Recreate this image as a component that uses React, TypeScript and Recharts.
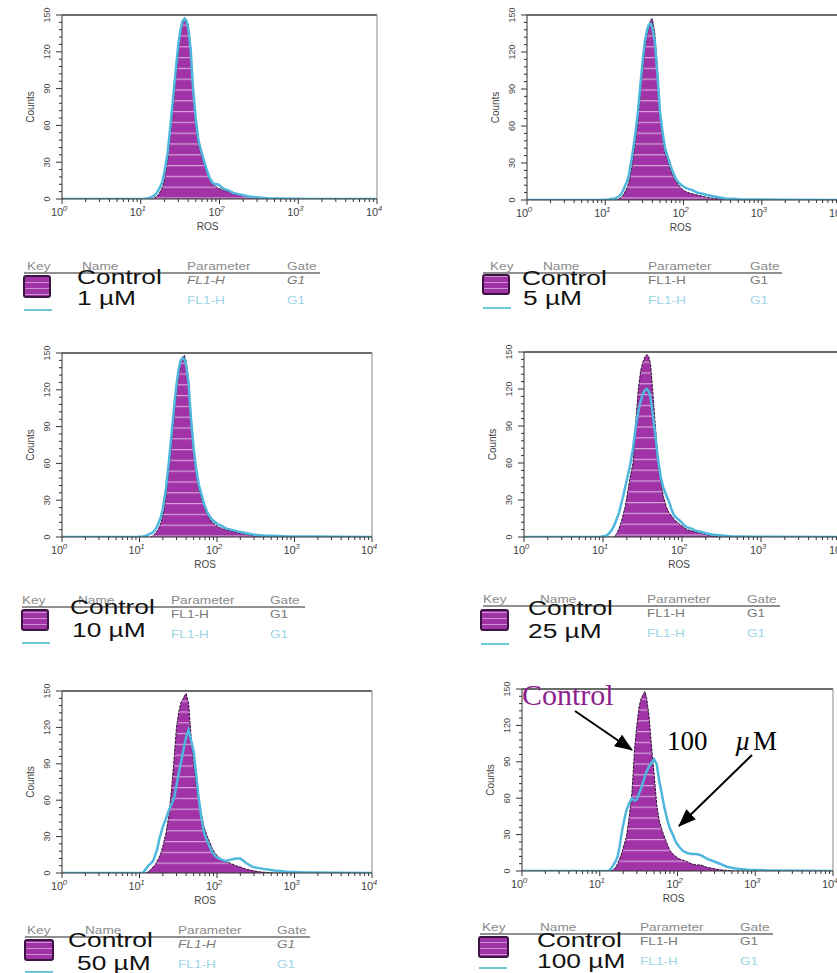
import React from 'react';
import { ComposedChart, Area, Line, XAxis, YAxis, ReferenceLine } from 'recharts';

// ROS channel (FL1-H) bin positions
const rosBins = [
  1, 9, 11, 12, 13, 14, 15, 16, 17, 18,
  19, 20, 22, 24, 26, 28, 30, 32, 34, 36,
  38, 40, 43, 46, 50, 54, 58, 63, 68, 74,
  80, 87, 95, 105, 115, 130, 150, 175, 200, 240,
  290, 350, 430, 550, 800, 1500, 10000,
];

// Panel 1: Control vs 1 µM
const control1 = [0, 0, 0, 0, 0, 0, 1, 2, 4, 7, 10, 16, 32, 55, 78, 100, 120, 135, 143, 148, 146, 142, 125, 90, 60, 45, 37, 30, 23, 17, 13, 11, 9, 8, 7, 6, 5, 4, 3, 2, 1, 0.5, 0, 0, 0, 0, 0];
const treated1 = [0, 0, 0, 0.5, 1, 2, 3, 5, 8, 11, 15, 22, 38, 62, 85, 107, 126, 138, 145, 147, 145, 140, 122, 92, 65, 48, 40, 32, 25, 18, 14, 12, 12, 10, 8, 7, 5, 4, 3, 2, 1.5, 1, 0.5, 0.5, 0.3, 0, 0];
// Panel 2: Control vs 5 µM
const control2 = [0, 0, 0, 0, 0, 0, 1, 2, 4, 7, 10, 14, 28, 45, 62, 85, 105, 122, 133, 140, 146, 147, 135, 110, 70, 50, 38, 32, 25, 19, 15, 12, 9, 7, 6, 5, 4, 3, 2, 1.5, 1, 0.5, 0, 0, 0, 0, 0];
const treated2 = [0, 0, 0.5, 1, 1, 2, 3, 5, 8, 12, 15, 20, 35, 52, 70, 92, 112, 128, 137, 142, 143, 140, 128, 105, 72, 55, 42, 35, 28, 22, 17, 14, 12, 10, 9, 8, 6, 5, 4, 3, 2, 1, 1, 0.5, 0.5, 0.3, 0];
// Panel 3: Control vs 10 µM
const control3 = [0, 0, 0, 0, 0, 0, 1, 3, 5, 8, 12, 17, 33, 55, 78, 100, 118, 132, 142, 147, 148, 143, 128, 100, 70, 52, 40, 32, 25, 19, 15, 12, 10, 8, 7, 6, 5, 4, 3, 2, 1, 0.5, 0, 0, 0, 0, 0];
const treated3 = [0, 0, 0.5, 1, 2, 3, 4, 6, 9, 13, 17, 23, 40, 62, 85, 106, 124, 137, 144, 146, 145, 140, 125, 98, 72, 55, 43, 35, 27, 21, 17, 14, 12, 10, 9, 7, 6, 5, 4, 3, 2, 1.5, 1, 1, 0.5, 0.5, 0];
// Panel 4: Control vs 25 µM
const control4 = [0, 0, 0, 0, 0, 0, 3, 7, 12, 18, 24, 32, 48, 60, 94, 120, 135, 142, 146, 148, 146, 140, 115, 90, 60, 45, 33, 25, 20, 17, 14, 12, 10, 8, 6, 5, 4, 3, 2, 1, 0, 0, 0, 0, 0, 0, 0];
const treated4 = [0, 0, 1, 3, 6, 10, 15, 20, 27, 33, 40, 46, 58, 72, 90, 102, 110, 116, 119, 120, 118, 113, 98, 82, 62, 48, 40, 34, 29, 22, 17, 15, 13, 10, 8, 7, 5, 4, 3, 2, 1.5, 1, 0.5, 0.5, 0.3, 0.3, 0];
// Panel 5: Control vs 50 µM
const control5 = [0, 0, 0, 0, 1, 3, 5, 7, 10, 13, 17, 22, 33, 48, 70, 95, 120, 132, 140, 143, 146, 148, 140, 115, 90, 72, 62, 48, 38, 31, 26, 20, 16, 13, 11, 9, 8, 6, 5, 3, 2, 1, 0.5, 0, 0, 0, 0];
const treated5 = [0, 0, 0, 3, 6, 8, 10, 15, 20, 28, 33, 38, 45, 52, 57, 62, 72, 82, 90, 98, 106, 112, 118, 110, 100, 80, 62, 45, 33, 27, 22, 17, 14, 12, 11, 10, 11, 12, 12, 8, 5, 4, 3, 2, 1, 0.5, 0];
// Panel 6: Control vs 100 µM
const control6 = [0, 0, 0, 0, 0, 0, 1, 3, 6, 10, 14, 19, 28, 45, 65, 100, 120, 135, 142, 145, 148, 143, 128, 105, 80, 55, 42, 34, 28, 22, 17, 14, 12, 10, 9, 8, 6, 5, 5, 3, 2, 1, 0.5, 0, 0, 0, 0];
const treated6 = [0, 0, 0, 0, 0, 2, 5, 8, 12, 20, 30, 38, 50, 56, 60, 58, 59, 64, 68, 73, 78, 82, 86, 89, 92, 88, 75, 63, 52, 42, 35, 30, 24, 20, 17, 15, 14, 14, 13, 10, 8, 6, 3.5, 2, 1, 0.5, 0];

const concLabels = ['1 µM', '5 µM', '10 µM', '25 µM', '50 µM', '100 µM'];
const controlLabel = 'Control';
const headerLabels = ['Key', 'Name', 'Parameter', 'Gate'];
const paramLabel = 'FL1-H';
const gateLabel = 'G1';

const xMajorTicks = [1, 10, 100, 1000, 10000];
const yMajorTicks = [0, 30, 60, 90, 120, 150];
const xAllTicks: number[] = [];
xMajorTicks.forEach((d, i) => {
  xAllTicks.push(d);
  if (i < xMajorTicks.length - 1) for (let m = 2; m <= 9; m++) xAllTicks.push(d * m);
});
const yAllTicks: number[] = [];
for (let v = 0; v <= 150; v += 6) yAllTicks.push(v);

const SANS = '"Liberation Sans", Arial, Helvetica, sans-serif';
const SERIF = '"Liberation Serif", "Times New Roman", serif';
const PURPLE = '#a034a6';
const CYAN = '#4fb6dd';
const TOP_M = 12;

const XTick = (props: any) => {
  const { x, y, payload } = props;
  const v = payload.value;
  const isMajor = xMajorTicks.includes(v);
  const exp = Math.round(Math.log10(v));
  return (
    <g>
      <line x1={x} x2={x} y1={y} y2={y + (isMajor ? 5 : 3)} stroke="#333" strokeWidth={1} />
      {isMajor && (
        <text fontFamily={SANS} fill="#444">
          <tspan x={x - 5} y={y + 17} fontSize={11} textAnchor="middle">10</tspan>
          <tspan x={x + 3} y={y + 12} fontSize={8} fontStyle="italic" textAnchor="middle">{exp}</tspan>
        </text>
      )}
    </g>
  );
};

const YTick = (props: any) => {
  const { x, y, payload } = props;
  const v = payload.value;
  const isMajor = yMajorTicks.includes(v);
  return (
    <g>
      <line x1={x - (isMajor ? 6 : 3)} x2={x} y1={y} y2={y} stroke="#333" strokeWidth={1} />
      {isMajor && (
        <text
          transform={`translate(${x - 12}, ${y}) rotate(-90)`}
          textAnchor="middle"
          fontSize={9}
          fontFamily={SANS}
          fill="#444"
        >
          {v}
        </text>
      )}
    </g>
  );
};

type PanelCfg = { x: number; y: number; w: number; h: number; control: number[]; treated: number[]; rosDx: number };

const panels: PanelCfg[] = [
  { x: 62, y: 15, w: 315, h: 184, control: control1, treated: treated1, rosDx: -12 },
  { x: 527, y: 15, w: 313, h: 185, control: control2, treated: treated2, rosDx: -3 },
  { x: 62, y: 353, w: 310, h: 184, control: control3, treated: treated3, rosDx: -12 },
  { x: 524, y: 352, w: 316, h: 185, control: control4, treated: treated4, rosDx: -3 },
  { x: 62, y: 691, w: 310, h: 182, control: control5, treated: treated5, rosDx: -12 },
  { x: 522, y: 689, w: 311, h: 182, control: control6, treated: treated6, rosDx: -4 },
];

function HistPanel({ cfg, idx }: { cfg: PanelCfg; idx: number }) {
  const data = rosBins.map((ros, i) => ({ ros, control: cfg.control[i], treated: cfg.treated[i] }));
  const w = cfg.w + 65;
  const h = cfg.h + 40 + TOP_M;
  const pid = `stripes-${idx}`;
  return (
    <div style={{ position: 'absolute', left: cfg.x - 60, top: cfg.y - TOP_M }}>
      <ComposedChart width={w} height={h} data={data} margin={{ top: TOP_M, right: 5, bottom: 0, left: 0 }}>
        <defs>
          <pattern id={pid} patternUnits="userSpaceOnUse" width={8} height={10.8}>
            <rect x={0} y={0} width={8} height={10.8} fill={PURPLE} />
            <rect x={0} y={0} width={8} height={1.2} fill="#ffffff" fillOpacity={0.55} />
          </pattern>
        </defs>
        <XAxis
          dataKey="ros"
          type="number"
          scale="log"
          domain={[1, 10000]}
          ticks={xAllTicks}
          interval={0}
          tick={<XTick />}
          tickLine={false}
          tickSize={0}
          tickMargin={0}
          height={40}
          axisLine={{ stroke: '#333' }}
          allowDataOverflow
        />
        <YAxis
          type="number"
          domain={[0, 150]}
          ticks={yAllTicks}
          interval={0}
          tick={<YTick />}
          tickLine={false}
          tickSize={0}
          tickMargin={0}
          width={60}
          axisLine={{ stroke: '#333' }}
          allowDataOverflow
        />
        <ReferenceLine y={150} stroke="#3a3a3a" strokeWidth={1.5} />
        <ReferenceLine x={10000} stroke="#888" strokeWidth={1} />
        <Area
          type="linear"
          dataKey="control"
          stroke="#2e1033"
          strokeWidth={1}
          strokeDasharray="3 1"
          fill={`url(#${pid})`}
          fillOpacity={1}
          dot={false}
          activeDot={false}
          isAnimationActive={false}
        />
        <Line
          type="linear"
          dataKey="treated"
          stroke={CYAN}
          strokeWidth={2.5}
          dot={false}
          activeDot={false}
          isAnimationActive={false}
        />
      </ComposedChart>
    </div>
  );
}

type LegendCfg = {
  keyTextX: number; lineY: number; lineX1: number; lineX2: number; nameX: number; paramX: number; gateX: number;
  ctrlX: number; ctrlY: number; concX: number; concY: number; boxX: number; boxY: number; boxW: number; boxH: number;
  cyanY: number; italic: boolean;
};

const legends: LegendCfg[] = [
  { keyTextX: 27, lineY: 273, lineX1: 24, lineX2: 320, nameX: 82, paramX: 187, gateX: 287, ctrlX: 77, ctrlY: 284, concX: 77, concY: 305, boxX: 24, boxY: 276, boxW: 26, boxH: 21, cyanY: 310, italic: true },
  { keyTextX: 490, lineY: 273, lineX1: 483, lineX2: 782, nameX: 543, paramX: 648, gateX: 750, ctrlX: 522, ctrlY: 285, concX: 523, concY: 305, boxX: 483, boxY: 275, boxW: 26, boxH: 19, cyanY: 308, italic: false },
  { keyTextX: 22, lineY: 607, lineX1: 22, lineX2: 305, nameX: 78, paramX: 171, gateX: 270, ctrlX: 70, ctrlY: 614, concX: 72, concY: 637, boxX: 22, boxY: 610, boxW: 26, boxH: 20, cyanY: 643, italic: false },
  { keyTextX: 483, lineY: 606, lineX1: 483, lineX2: 780, nameX: 540, paramX: 647, gateX: 747, ctrlX: 528, ctrlY: 615, concX: 528, concY: 638, boxX: 481, boxY: 610, boxW: 27, boxH: 20, cyanY: 644, italic: false },
  { keyTextX: 27, lineY: 937, lineX1: 25, lineX2: 310, nameX: 85, paramX: 178, gateX: 277, ctrlX: 68, ctrlY: 947, concX: 77, concY: 970, boxX: 25, boxY: 940, boxW: 28, boxH: 20, cyanY: 972, italic: true },
  { keyTextX: 482, lineY: 934, lineX1: 480, lineX2: 773, nameX: 540, paramX: 640, gateX: 740, ctrlX: 537, ctrlY: 947, concX: 537, concY: 968, boxX: 479, boxY: 937, boxW: 29, boxH: 20, cyanY: 968, italic: false },
];

function LegendBlock({ cfg, conc }: { cfg: LegendCfg; conc: string }) {
  const hdrY = cfg.lineY - 3;
  const hx = [cfg.keyTextX, cfg.nameX, cfg.paramX, cfg.gateX];
  const small = (x: number, y: number, s: string, fill: string, italic = false) => (
    <text
      transform={`translate(${x}, ${y}) scale(1.3, 1)`}
      fontSize={10.5}
      fontFamily={SANS}
      fill={fill}
      fontStyle={italic ? 'italic' : 'normal'}
    >
      {s}
    </text>
  );
  return (
    <g>
      {headerLabels.map((s, i) => (
        <React.Fragment key={s}>{small(hx[i], hdrY, s, '#8a8a8a')}</React.Fragment>
      ))}
      {small(cfg.paramX, cfg.lineY + 11, paramLabel, '#7a7a7a', cfg.italic)}
      {small(cfg.gateX, cfg.lineY + 11, gateLabel, '#7a7a7a', cfg.italic)}
      {small(cfg.paramX, cfg.lineY + 31, paramLabel, '#9fd5e6')}
      {small(cfg.gateX, cfg.lineY + 31, gateLabel, '#9fd5e6')}
      <rect
        x={cfg.boxX}
        y={cfg.boxY}
        width={cfg.boxW}
        height={cfg.boxH}
        rx={2}
        fill="url(#legend-stripes)"
        stroke="#3c1444"
        strokeWidth={2}
      />
      <line x1={cfg.lineX1} x2={cfg.lineX2} y1={cfg.lineY} y2={cfg.lineY} stroke="#222" strokeWidth={1.2} />
      <line x1={cfg.boxX} x2={cfg.boxX + 28} y1={cfg.cyanY} y2={cfg.cyanY} stroke="#6cc7d6" strokeWidth={2} />
      <text transform={`translate(${cfg.ctrlX}, ${cfg.ctrlY}) scale(1.35, 1)`} fontSize={19.5} fontFamily={SANS} fill="#111">
        {controlLabel}
      </text>
      <text transform={`translate(${cfg.concX}, ${cfg.concY}) scale(1.35, 1)`} fontSize={19.5} fontFamily={SANS} fill="#111">
        {conc}
      </text>
    </g>
  );
}

export default function App() {
  return (
    <div
      style={{
        position: 'absolute',
        left: 0,
        top: 0,
        width: 837,
        height: 973,
        overflow: 'hidden',
        background: '#ffffff',
        fontFamily: SANS,
      }}
    >
      {panels.map((p, i) => (
        <HistPanel key={i} cfg={p} idx={i} />
      ))}
      <svg
        width={837}
        height={973}
        style={{ position: 'absolute', left: 0, top: 0, pointerEvents: 'none' }}
      >
        <defs>
          <pattern id="legend-stripes" patternUnits="userSpaceOnUse" width={8} height={6}>
            <rect x={0} y={0} width={8} height={6} fill={PURPLE} />
            <rect x={0} y={0} width={8} height={1} fill="#ffffff" fillOpacity={0.45} />
          </pattern>
          <marker id="arrowHead" markerUnits="userSpaceOnUse" markerWidth={18} markerHeight={14} refX={17} refY={7} orient="auto">
            <path d="M0,0 L18,7 L0,14 Z" fill="#000" />
          </marker>
        </defs>
        {panels.map((p, i) => (
          <g key={i}>
            <text
              transform={`translate(${p.x - 28}, ${p.y + p.h / 2}) rotate(-90)`}
              textAnchor="middle"
              fontSize={10}
              fontFamily={SANS}
              fill="#444"
            >
              Counts
            </text>
            <text
              x={p.x + p.w / 2 + p.rosDx}
              y={p.y + p.h + 31}
              textAnchor="middle"
              fontSize={10}
              fontFamily={SANS}
              fill="#444"
            >
              ROS
            </text>
          </g>
        ))}
        {legends.map((l, i) => (
          <LegendBlock key={i} cfg={l} conc={concLabels[i]} />
        ))}
        {/* annotations of panel 6 */}
        <text x={522} y={705} fontSize={30} fontFamily={SERIF} fill="#8e1f8e">
          Control
        </text>
        <text x={667} y={750} fontSize={27} fontFamily={SERIF} fill="#000">
          100
        </text>
        <text x={735} y={750} fontSize={27} fontFamily={SERIF} fontStyle="italic" fill="#000">
          µ
        </text>
        <text x={753} y={750} fontSize={27} fontFamily={SERIF} fill="#000">
          M
        </text>
        <line x1={575} y1={711} x2={632} y2={750} stroke="#000" strokeWidth={2} markerEnd="url(#arrowHead)" />
        <line x1={752} y1={755} x2={679} y2={826} stroke="#000" strokeWidth={2} markerEnd="url(#arrowHead)" />
      </svg>
    </div>
  );
}
